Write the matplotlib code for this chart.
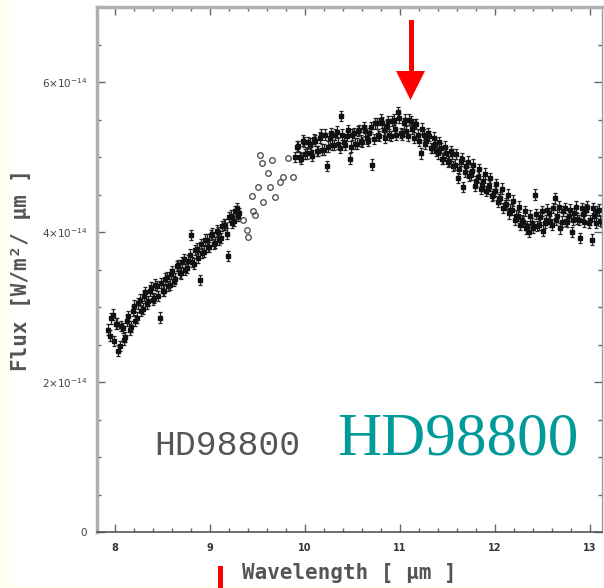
import numpy as np
import matplotlib
matplotlib.use("Agg")
import matplotlib.pyplot as plt
from matplotlib.patches import Rectangle, Polygon
from matplotlib.ticker import MultipleLocator

# flux in units of 1e-14 W/m^2/um
wave_a = [7.93, 7.96, 7.99, 8.02, 8.05, 8.08, 8.11, 8.14, 8.17, 8.20,
          8.23, 8.26, 8.29, 8.32, 8.35, 8.38, 8.41, 8.44, 8.47, 8.50,
          8.53, 8.56, 8.59, 8.62, 8.65, 8.68, 8.71, 8.74, 8.77, 8.80,
          8.83, 8.86, 8.89, 8.92, 8.95, 8.98, 9.01, 9.04, 9.07, 9.10,
          9.13, 9.16, 9.19, 9.22, 9.25, 9.28, 9.31]
flux_a = [2.70, 2.85, 2.55, 2.78, 2.48, 2.72, 2.60, 2.88, 2.74, 3.02,
          2.86, 3.10, 2.98, 3.20, 3.08, 3.26, 3.12, 3.28, 2.86, 3.22,
          3.38, 3.28, 3.44, 3.35, 3.55, 3.46, 3.60, 3.50, 3.62, 3.96,
          3.58, 3.78, 3.36, 3.72, 3.90, 3.80, 3.96, 3.84, 4.02, 3.90,
          4.08, 4.10, 3.68, 4.22, 4.15, 4.32, 4.25]

wave_a2 = [7.945, 7.975, 8.005, 8.035, 8.065, 8.095, 8.125, 8.155, 8.185, 8.215,
           8.245, 8.275, 8.305, 8.335, 8.365, 8.395, 8.425, 8.455, 8.485, 8.515,
           8.545, 8.575, 8.605, 8.635, 8.665, 8.695, 8.725, 8.755, 8.785, 8.815,
           8.845, 8.875, 8.905, 8.935, 8.965, 8.995, 9.025, 9.055, 9.085, 9.115,
           9.145, 9.175, 9.205, 9.235, 9.265, 9.295]
flux_a2 = [2.62, 2.90, 2.78, 2.42, 2.75, 2.56, 2.82, 2.70, 2.95, 2.82,
           3.05, 2.95, 3.15, 3.04, 3.22, 3.10, 3.30, 3.15, 3.32, 3.22,
           3.40, 3.30, 3.48, 3.38, 3.56, 3.45, 3.64, 3.52, 3.70, 3.60,
           3.76, 3.66, 3.84, 3.74, 3.90, 3.80, 3.98, 3.86, 4.00, 3.92,
           4.10, 3.98, 4.20, 4.12, 4.28, 4.22]

wave_b = [9.90, 9.93, 9.96, 9.99, 10.02, 10.05, 10.08, 10.11, 10.14, 10.17,
          10.20, 10.23, 10.26, 10.29, 10.32, 10.35, 10.38, 10.41, 10.44, 10.47,
          10.50, 10.53, 10.56, 10.59, 10.62, 10.65, 10.68, 10.71, 10.74, 10.77,
          10.80, 10.83, 10.86, 10.89, 10.92, 10.95, 10.98, 11.01, 11.04, 11.07,
          11.10, 11.13, 11.16, 11.19, 11.22, 11.25, 11.28, 11.31, 11.34, 11.37,
          11.40, 11.43, 11.46, 11.49, 11.52, 11.55, 11.58, 11.61, 11.64, 11.67,
          11.70, 11.73, 11.76, 11.79, 11.82, 11.85, 11.88, 11.91, 11.94, 11.97,
          12.00, 12.03, 12.06, 12.09, 12.12, 12.15, 12.18, 12.21, 12.24, 12.27,
          12.30, 12.33, 12.36, 12.39, 12.42, 12.45, 12.48, 12.51, 12.54, 12.57,
          12.60, 12.63, 12.66, 12.69, 12.72, 12.75, 12.78, 12.81, 12.84, 12.87,
          12.90, 12.93, 12.96, 12.99, 13.02, 13.05, 13.08, 13.11]
flux_b = [5.00, 5.15, 4.98, 5.20, 5.05, 5.18, 5.02, 5.22, 5.08, 5.30,
          5.10, 4.88, 5.25, 5.16, 5.30, 5.18, 5.55, 5.20, 5.28, 4.98,
          5.30, 5.18, 5.35, 5.22, 5.40, 5.25, 5.32, 4.90, 5.45, 5.30,
          5.50, 5.36, 5.42, 5.30, 5.48, 5.38, 5.60, 5.32, 5.45, 5.35,
          5.50, 5.38, 5.44, 5.30, 5.05, 5.30, 5.22, 5.28, 5.12, 5.18,
          5.05, 5.12, 4.98, 5.06, 4.95, 5.04, 4.90, 4.72, 4.95, 4.60,
          4.88, 4.75, 4.82, 4.62, 4.74, 4.58, 4.68, 4.55, 4.62, 4.48,
          4.55, 4.40, 4.46, 4.32, 4.38, 4.25, 4.30, 4.16, 4.22, 4.10,
          4.14, 4.05, 4.00, 4.12, 4.50, 4.08, 4.20, 4.02, 4.16, 4.25,
          4.10, 4.45, 4.22, 4.05, 4.28, 4.15, 4.22, 4.00, 4.25, 4.18,
          3.92, 4.24, 4.30, 4.12, 3.90, 4.22, 4.28, 4.15]

wave_b2 = [9.915, 9.945, 9.975, 10.005, 10.035, 10.065, 10.095, 10.125, 10.155, 10.185,
           10.215, 10.245, 10.275, 10.305, 10.335, 10.365, 10.395, 10.425, 10.455, 10.485,
           10.515, 10.545, 10.575, 10.605, 10.635, 10.665, 10.695, 10.725, 10.755, 10.785,
           10.815, 10.845, 10.875, 10.905, 10.935, 10.965, 10.995, 11.025, 11.055, 11.085,
           11.115, 11.145, 11.175, 11.205, 11.235, 11.265, 11.295, 11.325, 11.355, 11.385,
           11.415, 11.445, 11.475, 11.505, 11.535, 11.565, 11.595, 11.625, 11.655, 11.685,
           11.715, 11.745, 11.775, 11.805, 11.835, 11.865, 11.895, 11.925, 11.955, 11.985,
           12.015, 12.045, 12.075, 12.105, 12.135, 12.165, 12.195, 12.225, 12.255, 12.285,
           12.315, 12.345, 12.375, 12.405, 12.435, 12.465, 12.495, 12.525, 12.555, 12.585,
           12.615, 12.645, 12.675, 12.705, 12.735, 12.765, 12.795, 12.825, 12.855, 12.885,
           12.915, 12.945, 12.975, 13.005, 13.035, 13.065, 13.095, 13.125]
flux_b2 = [5.14, 5.00, 5.22, 5.04, 5.20, 5.06, 5.24, 5.08, 5.26, 5.10,
           5.30, 5.14, 5.32, 5.16, 5.34, 5.12, 5.30, 5.16, 5.36, 5.14,
           5.32, 5.18, 5.36, 5.20, 5.35, 5.22, 5.40, 5.24, 5.45, 5.28,
           5.46, 5.26, 5.48, 5.28, 5.50, 5.30, 5.52, 5.30, 5.50, 5.28,
           5.48, 5.26, 5.44, 5.22, 5.38, 5.18, 5.32, 5.12, 5.26, 5.08,
           5.20, 4.98, 5.14, 4.94, 5.08, 4.88, 5.04, 4.84, 4.98, 4.80,
           4.94, 4.76, 4.90, 4.68, 4.84, 4.62, 4.78, 4.58, 4.72, 4.50,
           4.64, 4.44, 4.58, 4.36, 4.50, 4.30, 4.42, 4.22, 4.34, 4.16,
           4.28, 4.08, 4.22, 4.06, 4.24, 4.10, 4.28, 4.12, 4.30, 4.14,
           4.32, 4.16, 4.34, 4.14, 4.32, 4.14, 4.30, 4.16, 4.34, 4.16,
           4.32, 4.14, 4.34, 4.16, 4.32, 4.12, 4.30, 4.14]

# open circles (second data set)
wave_c = [9.28, 9.35, 9.39, 9.40, 9.44, 9.45, 9.47, 9.51, 9.53, 9.55,
          9.56, 9.61, 9.63, 9.65, 9.68, 9.74, 9.77, 9.82, 9.87, 9.24]
flux_c = [4.27, 4.16, 4.03, 3.93, 4.48, 4.28, 4.23, 4.60, 5.03, 4.92,
          4.40, 4.79, 4.60, 4.96, 4.47, 4.67, 4.73, 4.99, 4.73, 4.20]

flux_err = 0.07

fig = plt.figure(figsize=(6.04, 5.88), dpi=100)
fig.patch.set_facecolor('#fffff0')

# white page behind the plot
bg = fig.add_axes([0, 0, 1, 1], zorder=-10)
bg.set_xlim(0, 604)
bg.set_ylim(588, 0)
bg.axis('off')
bg.add_patch(Rectangle((10, 0), 594, 586, facecolor='white', edgecolor='none'))

ax = fig.add_axes([0.1606, 0.0952, 0.8361, 0.8928], zorder=1)
ax.set_facecolor('none')

scale = 1e-14
for w, f in [(wave_a, flux_a), (wave_a2, flux_a2), (wave_b, flux_b), (wave_b2, flux_b2)]:
    ax.errorbar(np.array(w), np.array(f) * scale, yerr=flux_err * scale,
                fmt='s', ms=2.3, color='#111111', ecolor='#222222', elinewidth=0.9,
                capsize=1.5, capthick=0.9)
ax.plot(np.array(wave_c), np.array(flux_c) * scale, 'o', ms=4,
        mfc='none', mec='#555555', mew=1)

ax.set_xlim(7.81, 13.13)
ax.set_ylim(0, 7e-14)
ax.xaxis.set_major_locator(MultipleLocator(1))
ax.xaxis.set_minor_locator(MultipleLocator(0.2))
ax.yaxis.set_minor_locator(MultipleLocator(0.5e-14))
ax.set_yticks([0, 2e-14, 4e-14, 6e-14])
ax.set_yticklabels(['0', r'2$\times$10$^{-14}$', r'4$\times$10$^{-14}$', r'6$\times$10$^{-14}$'])
ax.tick_params(which='both', direction='in', top=True, right=True, color='#666666')
ax.tick_params(which='major', length=6, width=1)
ax.tick_params(which='minor', length=3, width=1)
ax.tick_params(axis='x', labelsize=7, labelcolor='#333333', pad=8)
ax.tick_params(axis='y', labelsize=7.5, labelcolor='#444444', pad=7)
for lab in ax.get_xticklabels():
    lab.set_fontweight('bold')

for side in ['left', 'top']:
    ax.spines[side].set_color('#b0b0b0')
    ax.spines[side].set_linewidth(2.5)
ax.spines['bottom'].set_color('#555555')
ax.spines['bottom'].set_linewidth(1.2)
ax.spines['right'].set_color('#999999')
ax.spines['right'].set_linewidth(1)

ax.set_xlabel('Wavelength [ \u03bcm ]', family='DejaVu Sans Mono', fontsize=15,
              fontweight='bold', color='#555555', labelpad=7)
ax.set_ylabel('Flux [W/m\u00b2/ \u03bcm ]', family='DejaVu Sans Mono', fontsize=15,
              fontweight='bold', color='#555555', labelpad=8)

ax.text(0.114, 0.165, 'HD98800', transform=ax.transAxes, family='Liberation Mono',
        fontsize=25, color='#555555', va='center')
ax.text(0.475, 0.175, 'HD98800', transform=ax.transAxes, family='Liberation Serif',
        fontsize=44, color='#009a99', va='center')

# red arrows in figure pixel coordinates
over = fig.add_axes([0, 0, 1, 1], zorder=5)
over.set_facecolor('none')
over.set_xlim(0, 604)
over.set_ylim(588, 0)
over.axis('off')
over.add_patch(Rectangle((408.5, 20), 5, 53, facecolor='#ff0000', edgecolor='none'))
over.add_patch(Polygon([(396, 71), (425, 71), (410.5, 100)], closed=True,
                       facecolor='#ff0000', edgecolor='none'))
over.add_patch(Rectangle((218, 566), 5, 22, facecolor='#ff0000', edgecolor='none'))

fig.savefig('out.png', dpi=100, facecolor=fig.get_facecolor())
